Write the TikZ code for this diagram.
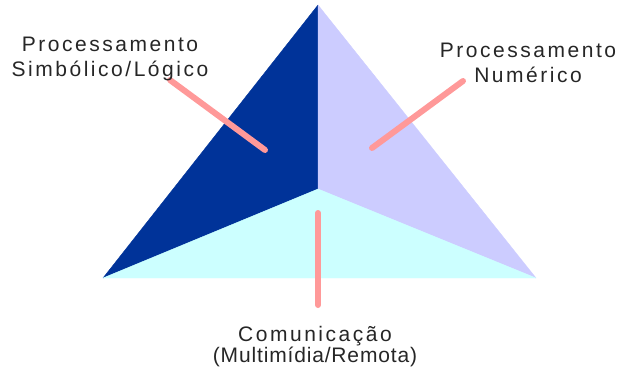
\documentclass[tikz,border=0pt]{standalone}
\usepackage{tkz-euclide}
\usepackage{fontspec}
\setmainfont{Liberation Sans}[LetterSpace=12]

\definecolor{azulesc}{RGB}{0,51,153}
\definecolor{lilas}{RGB}{204,204,255}
\definecolor{ciano}{RGB}{204,255,255}
\definecolor{rosa}{RGB}{255,153,153}

\tikzset{
  rotulo/.style={align=center, inner sep=0pt, anchor=base, text=black!85,
    font=\fontsize{21}{25}\selectfont},
  guia/.style={rosa, line width=6pt}
}

\begin{document}
\begin{tikzpicture}[x=1pt,y=1pt]
            \useasboundingbox (0,0) rectangle (618,368);
            \tkzDefPoints{318/363/A, 318/179/O, 103/90/B, 536/90/C}

            % as tres faces
            \tkzDrawPolygon[fill=azulesc, color=azulesc, line width=0.4pt](A,B,O)
            \tkzDrawPolygon[fill=lilas, color=lilas, line width=0.4pt](A,O,C)
            \tkzDrawPolygon[fill=ciano, color=ciano, line width=0.4pt](B,C,O)

            %%%%%%%%%%%%%%%%%%%%
            \tkzDefPoints{170/288/s_i, 265/218/s_f,
                          463/287/n_i, 372/220/n_f,
                          318/155/c_i, 318/63/c_f}
            \tkzDrawSegment[guia](s_i,s_f)
            \tkzDrawSegment[guia](n_i,n_f)
            \tkzDrawSegment[guia](c_i,c_f)

            \node[rotulo] (simb) at (110,292) {Processamento\\Simbólico/Lógico};
            \node[rotulo] (num) at (528,286) {Processamento\\Numérico};
            \node[rotulo, font=\fontsize{21}{19}\selectfont] (com) at (315,6)
                {Comunicação\\\addfontfeature{LetterSpace=4}(Multimídia/Remota)};
        \end{tikzpicture}
\end{document}
